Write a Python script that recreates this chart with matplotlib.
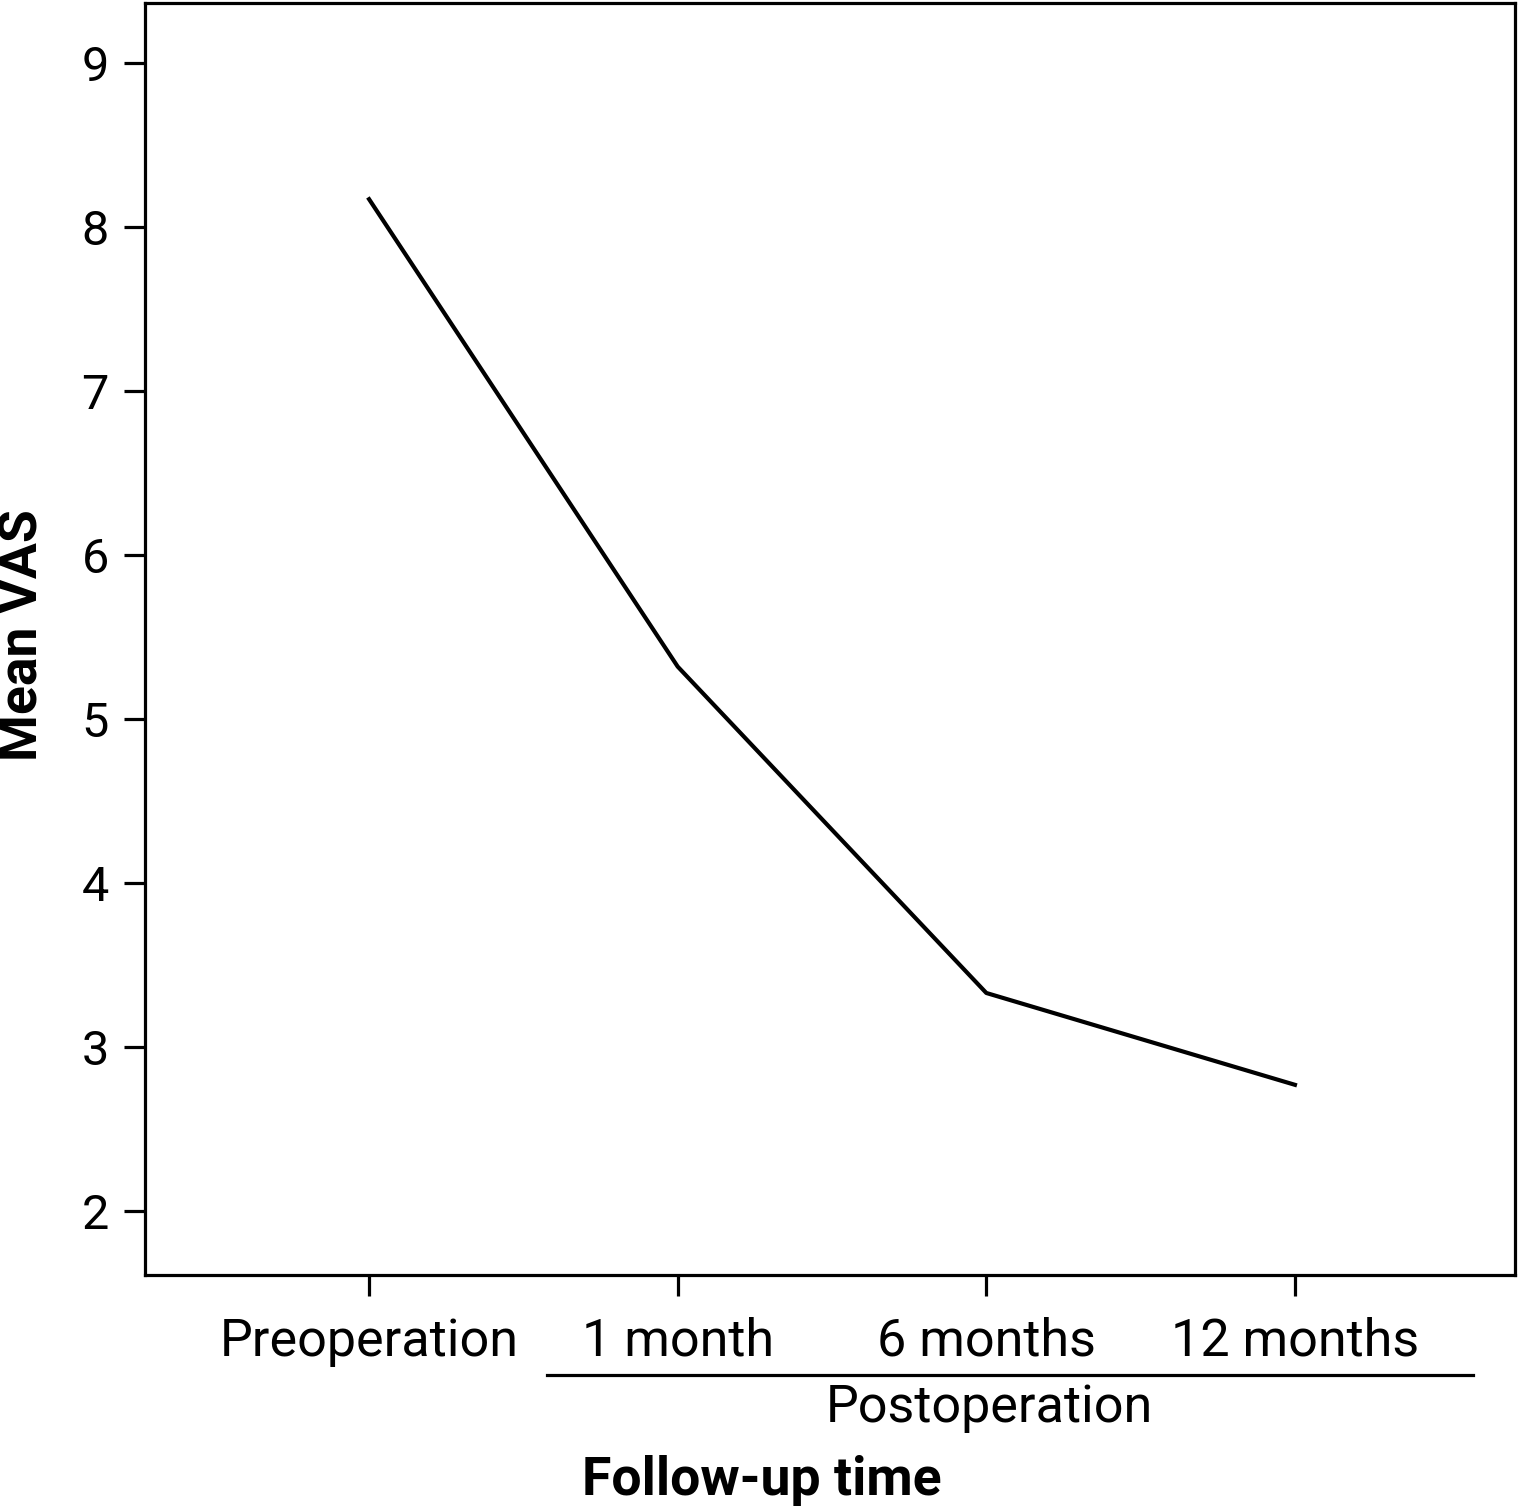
import matplotlib
matplotlib.use('Agg')
import matplotlib.pyplot as plt
from matplotlib.lines import Line2D

plt.rcParams['font.family'] = ['Roboto', 'DejaVu Sans']

# data
times = ['Preoperation', '1 month', '6 months', '12 months']
mean_vas = [8.17, 5.32, 3.33, 2.77]
y_ticks = [2, 3, 4, 5, 6, 7, 8, 9]

fig = plt.figure(figsize=(15.2, 15.12), dpi=100)
ax = fig.add_axes([0.0954, 0.1567, 0.9013, 0.8413])

ax.plot(range(len(times)), mean_vas, color='black', linewidth=3.0)

ax.set_xlim(-0.726, 3.713)
ax.set_ylim(1.61, 9.366)
ax.set_xticks(range(len(times)))
ax.set_xticklabels(times)
ax.set_yticks(y_ticks)

for s in ax.spines.values():
    s.set_linewidth(2.3)
ax.tick_params(axis='both', direction='out', length=15, width=2.3)
ax.tick_params(axis='y', pad=11, labelsize=35)
ax.tick_params(axis='x', pad=15, labelsize=37.5)

fig.text(0.015, 0.58, 'Mean VAS', fontsize=38.5, fontweight='bold',
         rotation=90, ha='center', va='center')

# bracket under the postoperative time points
fig.add_artist(Line2D([0.360, 0.969], [0.0906, 0.0906], color='black', linewidth=2.3))
fig.text(0.651, 0.0688, 'Postoperation', fontsize=37.5, ha='center', va='center')
fig.text(0.501, 0.021, 'Follow-up time', fontsize=38.5, fontweight='bold', ha='center', va='center')

fig.savefig('out.png', dpi=100)
